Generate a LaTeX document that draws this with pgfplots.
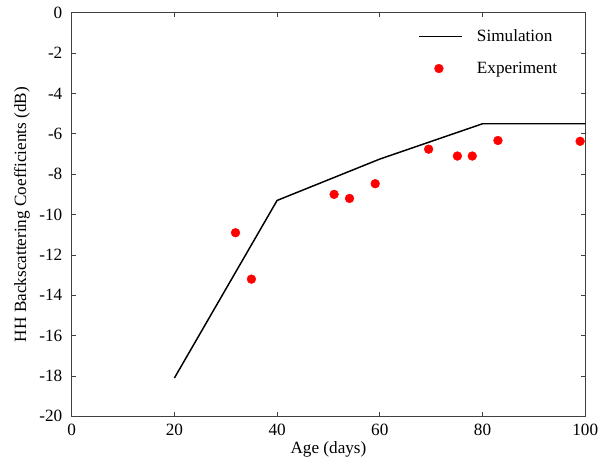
\documentclass[border=0pt]{standalone}
\usepackage{pgfplots}
\pgfplotsset{compat=1.18}
\usepackage{fontspec}
\setmainfont{Liberation Serif}
\pgfplotsset{
  longline legend/.style={legend image code/.code={\draw[##1] (0pt,0pt) -- (44pt,0pt);}},
  longmark legend/.style={legend image code/.code={\path[draw=none,fill=none] (0pt,0pt) -- (44pt,0pt);\draw[##1] plot coordinates {(20pt,0pt)};}},
}
\begin{document}
\begin{tikzpicture}[x=1pt,y=1pt]
\begin{axis}[
  scale only axis,
  width=523pt, height=411pt,
  xmin=0, xmax=100, ymin=-20, ymax=0,
  xtick={0,20,...,100}, ytick={-20,-18,...,0},
  /pgf/number format/assume math mode=true,
  tick label style={font=\fontsize{17.5}{20}\selectfont},
  label style={font=\fontsize{17.5}{20}\selectfont},
  tick align=inside, major tick length=4pt,
  axis line style={line width=0.9pt, black!75},
  tick style={black!75, line width=0.7pt},
  xticklabel style={yshift=-4pt},
  yticklabel style={xshift=-6pt},
  xlabel={Age (days)}, ylabel={HH Backscattering Coefficients (dB)},
  xlabel style={yshift=1pt},
  ylabel style={yshift=3pt},
  legend style={draw=none, fill=none, at={(axis cs:67.5,-0.75)}, anchor=north west, inner sep=0pt,
    font=\fontsize{17.5}{20}\selectfont, row sep=15pt,
    /tikz/every odd column/.append style={column sep=12pt}},
  legend cell align=left,
]
\addplot[black, line width=1.5pt, mark=none, longline legend]
  coordinates {(20,-18.1) (40,-9.3) (60,-7.25) (80,-5.5) (100,-5.5)};
\addlegendentry{Simulation}
\addplot[only marks, mark=*, mark size=4.5pt, color=red, mark options={fill=red, draw=red}, longmark legend]
  coordinates {(31.9,-10.9) (35.0,-13.2) (51.1,-9.0) (54.1,-9.2) (59.1,-8.47) (69.5,-6.76) (75.1,-7.1) (78.0,-7.1) (83.0,-6.33) (99.0,-6.37)};
\addlegendentry{Experiment}
\end{axis}
\pgfresetboundingbox
\path ([xshift=-73pt,yshift=-44pt]current axis.south west) rectangle ([xshift=14pt,yshift=13pt]current axis.north east);
\end{tikzpicture}
\end{document}
